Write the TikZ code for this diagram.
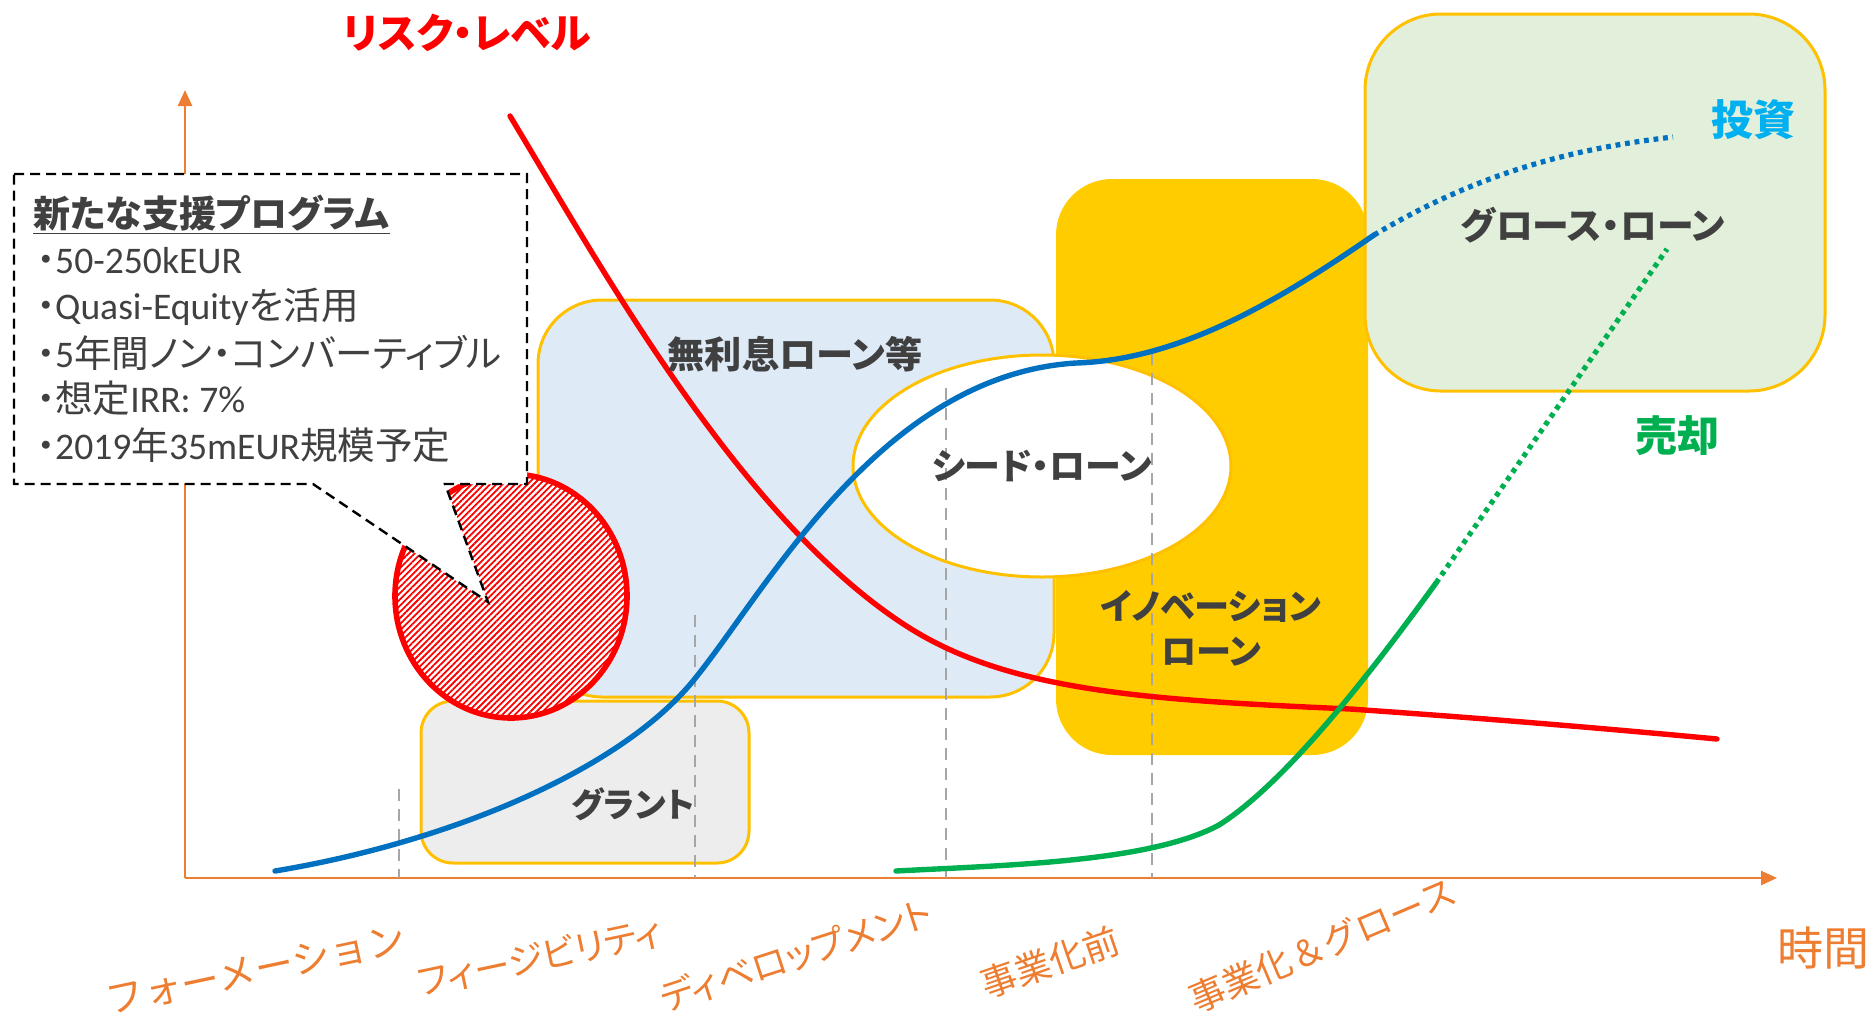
\documentclass[tikz,border=0pt]{standalone}
\usepackage{fontspec}
\setmainfont{Carlito}
\newfontfamily\jpf{Noto Sans CJK JP}[RawFeature=+palt]
\newfontfamily\jpm{Noto Sans CJK JP}
\usetikzlibrary{arrows.meta,patterns.meta}
\definecolor{gold}{HTML}{FFC000}
\definecolor{innofill}{HTML}{FFCC00}
\definecolor{lblue}{HTML}{DEEBF7}
\definecolor{lgray}{HTML}{EDEDED}
\definecolor{lgreen}{HTML}{E2EFDA}
\definecolor{axor}{HTML}{ED7D31}
\definecolor{txt}{HTML}{404040}
\definecolor{cyanish}{HTML}{00B0F0}
\definecolor{grn}{HTML}{00B050}
\definecolor{blu}{HTML}{0070C0}
\definecolor{grayd}{HTML}{A6A6A6}
\newcommand{\fs}[1]{\fontsize{#1}{1.2\dimexpr#1\relax}\selectfont}
\begin{document}
\begin{tikzpicture}[x=0.5pt,y=-0.5pt,
  lbl/.style={font=\jpf\bfseries\fs{18pt}, text=txt, inner sep=0pt},
  xlbl/.style={font=\jpf\fs{18pt}, text=axor, inner sep=0pt},
  gbox/.style={draw=gold, line width=1.5pt},
  vdash/.style={draw=grayd, line width=1pt, dash pattern=on 6pt off 4pt},
  crv/.style={line width=2.7pt, line cap=round},
  dotcrv/.style={line width=2.6pt, dash pattern=on 2.4pt off 2.4pt},
  ctext/.style={font=\fs{18.8pt}, text=txt, inner sep=0pt, anchor=west}
]
\useasboundingbox (0,0) rectangle (1874,1018);

% boxes
\draw[gbox, fill=lblue, rounded corners=32pt] (538,300) rectangle (1054,697);
\draw[gbox, fill=lgray, rounded corners=16pt] (421,701) rectangle (749,863);
\fill[innofill, rounded corners=28pt] (1056,179) rectangle (1368,755);
\draw[gbox, fill=lgreen, rounded corners=38pt] (1365,14) rectangle (1825,391);
\draw[gbox, fill=white] (1042,466) ellipse [x radius=189, y radius=111];

% red hatched circle
\draw[red, line width=2.8pt, fill=white,
  postaction={pattern={Lines[angle=45,distance=2.2pt,line width=0.9pt]}, pattern color=red}]
  (511,596) ellipse [x radius=116, y radius=122];

% axes
\coordinate (O) at (185,878);
\coordinate (XE) at (1777,878);
\coordinate (YE) at (185,90);
\draw[axor, line width=1.3pt, -{Triangle[length=8pt,width=7pt]}] (O) -- (XE);
\draw[axor, line width=1.3pt, -{Triangle[length=8pt,width=7pt]}] (O) -- (YE);

% gray dashed verticals
\draw[vdash] (399,789) -- (399,878);
\draw[vdash] (695,615) -- (695,878);
\draw[vdash] (946,388) -- (946,878);
\draw[vdash] (1152,353) -- (1152,878);

% callout
\draw[black, line width=1.2pt, dash pattern=on 5pt off 3pt, fill=white]
  (14,174) -- (527,174) -- (527,484) -- (445,484) -- (488,602) -- (313,484) -- (14,484) -- cycle;

% curves
\draw[crv, red] (510,116) .. controls (600,265) and (740,520) .. (908,627)
  .. controls (1010,692) and (1150,700) .. (1350,709)
  .. controls (1480,718) and (1600,728) .. (1717,739);
\draw[crv, blu] (275,871) .. controls (450,842) and (620,770) .. (693,681)
  .. controls (766,592) and (880,375) .. (1076,363)
  .. controls (1180,360) and (1280,300) .. (1374,235);
\draw[dotcrv, blu] (1374,235) .. controls (1470,178) and (1560,150) .. (1673,137);
\draw[crv, grn] (896,871) .. controls (1010,865) and (1150,862) .. (1219,825)
  .. controls (1290,780) and (1380,660) .. (1436,583);
\draw[dotcrv, grn] (1436,583) -- (1667,249);

% labels
\node[font=\jpf\bfseries\fs{20.5pt}, text=red, inner sep=0pt] (risk) at (467,33) {リスク・レベル};
\node[lbl, font=\jpf\bfseries\fs{18.6pt}] (mrs) at (795,354) {無利息ローン等};
\node[lbl, font=\jpf\bfseries\fs{17pt}] (grant) at (633,804) {グラント};
\node[lbl] (seed) at (1042,466) {シード・ローン};
\node[lbl, align=center, font=\jpf\bfseries\fs{17.6pt}] (inno) at (1211,628) {イノベーション\\[1.5pt]ローン};
\node[lbl, font=\jpf\bfseries\fs{18.4pt}] (growth) at (1593,225) {グロース・ローン};
\node[font=\jpf\bfseries\fs{21pt}, text=cyanish, inner sep=0pt] (inv) at (1753,120) {投資};
\node[font=\jpf\bfseries\fs{21pt}, text=grn, inner sep=0pt] (sell) at (1677,436) {売却};
\node[font=\jpf\fs{23pt}, text=axor, inner sep=0pt] (time) at (1823,948) {時間};

\node[xlbl, font=\jpm\fs{19.2pt}, rotate=12] (p1) at (256,970) {フォーメーション};
\node[xlbl, rotate=12] (p2) at (540,957) {フィージビリティ};
\node[xlbl, rotate=18] (p3) at (796,955) {ディベロップメント};
\node[xlbl, rotate=19] (p4) at (1050,962) {事業化前};
\node[xlbl, font=\jpm\fs{18pt}, rotate=23] (p5) at (1323,945) {事業化＆グロース};

% callout text
\node[ctext, font=\jpf\bfseries\fs{18.5pt}] (ct) at (33,215) {\underline{新たな支援プログラム}};
\node[ctext] (b1) at (36,261) {{\jpf ・}50-250kEUR};
\node[ctext] (b2) at (36,307) {{\jpf ・}Quasi-Equity{\jpf を活用}};
\node[ctext] (b3) at (36,353) {{\jpf ・}5{\jpf 年間ノン・コンバーティブル}};
\node[ctext] (b4) at (36,398) {{\jpf ・想定}IRR: 7\%};
\node[ctext] (b5) at (36,445) {{\jpf ・}2019{\jpf 年}35mEUR{\jpf 規模予定}};
\end{tikzpicture}
\end{document}
